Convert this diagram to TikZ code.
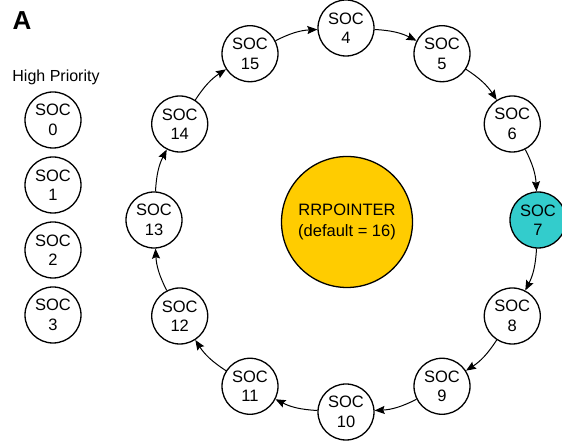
\documentclass[tikz,border=0pt]{standalone}
\usepackage{fontspec}
\setmainfont{Liberation Sans}
\usetikzlibrary{arrows.meta,calc}
\definecolor{tealfill}{HTML}{33CCCC}
\definecolor{ptrfill}{HTML}{FFCC00}
\begin{document}
\begin{tikzpicture}[x=1pt,y=1pt,
  soc/.style={circle,draw,line width=1.3pt,fill=white,minimum size=56pt,inner sep=0pt,align=center,
    font=\fontsize{16.5}{19.5}\selectfont},
  arr/.style={-{Stealth[length=10pt,width=8pt,inset=1.5pt]},line width=1pt}]
\useasboundingbox (0,0) rectangle (562,443);
\node[font=\fontsize{26}{26}\selectfont\bfseries] (lblA) at (22,422) {A};
\node[font=\fontsize{16}{19}\selectfont] (hp) at (56,366) {High Priority};
\node[soc] (s0) at (53,323) {SOC\\0};
\node[soc] (s1) at (53,258) {SOC\\1};
\node[soc] (s2) at (53,193) {SOC\\2};
\node[soc] (s3) at (53,128) {SOC\\3};
\node[circle,draw,line width=1.3pt,fill=ptrfill,minimum size=131pt,inner sep=0pt,align=center,
  font=\fontsize{16.5}{20.5}\selectfont] (ptr) at (347,221) {RRPOINTER\\(default = 16)};
\foreach \k in {4,...,15}{
  \pgfmathsetmacro{\ang}{90-30*(\k-4)}
  \ifnum\k=7
    \node[soc,fill=tealfill] (s\k) at ($(346,223)+(\ang:192)$) {SOC\\\k};
  \else
    \node[soc] (s\k) at ($(346,223)+(\ang:192)$) {SOC\\\k};
  \fi
}
\foreach \a/\b in {4/5,5/6,6/7,7/8,8/9,9/10,10/11,11/12,12/13,13/14,14/15,15/4}{
  \draw[arr] (s\a) to[bend left=12] (s\b);
}
\end{tikzpicture}
\end{document}
